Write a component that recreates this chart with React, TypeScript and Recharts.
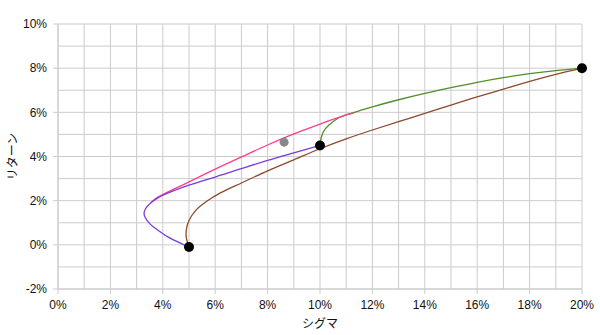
import { ComposedChart, Line, Scatter, XAxis, YAxis, CartesianGrid } from 'recharts'

// axis ticks (percent)
const xTicks = [0, 1, 2, 3, 4, 5, 6, 7, 8, 9, 10, 11, 12, 13, 14, 15, 16, 17, 18, 19, 20]
const yTicks = [-2, -1, 0, 1, 2, 3, 4, 5, 6, 7, 8, 9, 10]

// frontier curves: [sigma %, return %]
const purpleCurve = [
    [5, -0.1], [4.59, 0.12], [4.21, 0.35], [3.83, 0.65], [3.51, 0.95], [3.32, 1.26],
    [3.29, 1.48], [3.38, 1.71], [3.58, 1.94], [3.83, 2.14], [4.21, 2.35], [4.97, 2.69],
    [6, 3.07], [7, 3.45], [8, 3.82], [9, 4.16], [10, 4.5],
]
const pinkCurve = [
    [3.55, 1.92], [3.8, 2.15], [4.2, 2.4], [5, 2.85], [6, 3.43], [7, 3.98],
    [8, 4.52], [9, 5.02], [10, 5.47], [11, 5.88], [11.3, 5.98],
]
const greenCurve = [
    [10, 4.52], [10.02, 4.72], [10.12, 5.1], [10.32, 5.4], [10.64, 5.7], [11, 5.88],
    [11.5, 6.07], [12, 6.25], [13, 6.57], [14, 6.86], [15, 7.12], [16, 7.36],
    [17, 7.57], [18, 7.75], [19, 7.89], [20, 8],
]
const brownCurve = [
    [5, -0.1], [4.9, 0.3], [4.9, 0.7], [5, 1.1], [5.25, 1.55], [5.65, 1.95], [6.2, 2.35],
    [7, 2.8], [8, 3.35], [9, 3.85], [10, 4.35], [11, 4.8], [12, 5.2], [13, 5.58],
    [14, 5.95], [15, 6.33], [16, 6.7], [17, 7.05], [18, 7.4], [19, 7.72], [20, 8],
]
const assetPoints = [[5, -0.1], [10, 4.5], [20, 8]]
const grayPoints = [[8.63, 4.65]]

const toRows = (pts: number[][]) => pts.map(([x, y]) => ({ x, y }))

const TICK_SIZE = 5
const TICK_MARGIN = 6
const gridColor = '#cccccc'
const tickFont = 'Liberation Sans, Arial, sans-serif'
const jpFont = 'Noto Sans CJK JP, sans-serif'

function XTick(props: any) {
    const { x, y, payload } = props
    if (payload.value % 2 !== 0) return null
    const axisY = y - TICK_SIZE - TICK_MARGIN
    return (
        <g>
            <line x1={x} x2={x} y1={axisY} y2={axisY + TICK_SIZE} stroke={gridColor} />
            <text x={x} y={y} dy="0.71em" textAnchor="middle" fontSize={12} fontFamily={tickFont} fill="#111">
                {payload.value}%
            </text>
        </g>
    )
}

function YTick(props: any) {
    const { x, y, payload } = props
    if (payload.value % 2 !== 0) return null
    const axisX = x + TICK_SIZE + TICK_MARGIN
    return (
        <g>
            <line x1={axisX - TICK_SIZE} x2={axisX} y1={y} y2={y} stroke={gridColor} />
            <text x={x} y={y} dy="0.355em" textAnchor="end" fontSize={12} fontFamily={tickFont} fill="#111">
                {payload.value}%
            </text>
        </g>
    )
}

const dot = (r: number, fill: string) => (p: any) => <circle cx={p.cx} cy={p.cy} r={r} fill={fill} />

export default function App() {
    return (
        <div style={{ position: 'absolute', left: 0, top: 0, background: '#fff' }}>
            <ComposedChart width={600} height={335} margin={{ top: 24, right: 18, bottom: 0, left: 0 }}>
                <CartesianGrid stroke={gridColor} strokeWidth={1} />
                <XAxis
                    dataKey="x"
                    type="number"
                    domain={[0, 20]}
                    ticks={xTicks}
                    height={46}
                    stroke={gridColor}
                    tickLine={false}
                    tickSize={TICK_SIZE}
                    tickMargin={TICK_MARGIN}
                    tick={<XTick />}
                    interval={0}
                    label={({ viewBox }: any) => (
                        <text
                            x={viewBox.x + viewBox.width / 2}
                            y={viewBox.y + 33}
                            dominantBaseline="central"
                            textAnchor="middle"
                            fontSize={12}
                            fontFamily={jpFont}
                            fill="#111"
                        >
                            シグマ
                        </text>
                    )}
                />
                <YAxis
                    dataKey="y"
                    type="number"
                    domain={[-2, 10]}
                    ticks={yTicks}
                    width={58}
                    stroke={gridColor}
                    tickLine={false}
                    tickSize={TICK_SIZE}
                    tickMargin={TICK_MARGIN}
                    tick={<YTick />}
                    interval={0}
                    label={({ viewBox }: any) => {
                        const cx = viewBox.x + 11
                        const cy = viewBox.y + viewBox.height / 2
                        return (
                            <text
                                x={cx}
                                y={cy}
                                transform={`rotate(-90, ${cx}, ${cy})`}
                                dominantBaseline="central"
                                textAnchor="middle"
                                fontSize={12}
                                fontFamily={jpFont}
                                fill="#111"
                            >
                                リターン
                            </text>
                        )
                    }}
                />
                <Line data={toRows(brownCurve)} dataKey="y" type="natural" stroke="#8c4a2c" strokeWidth={1.3} dot={false} isAnimationActive={false} />
                <Line data={toRows(greenCurve)} dataKey="y" type="natural" stroke="#4f8f2a" strokeWidth={1.3} dot={false} isAnimationActive={false} />
                <Line data={toRows(pinkCurve)} dataKey="y" type="natural" stroke="#ff3d8c" strokeWidth={1.3} dot={false} isAnimationActive={false} />
                <Line data={toRows(purpleCurve)} dataKey="y" type="natural" stroke="#7a3ae0" strokeWidth={1.3} dot={false} isAnimationActive={false} />
                <Scatter data={toRows(grayPoints)} dataKey="y" shape={dot(4.5, '#888888')} isAnimationActive={false} />
                <Scatter data={toRows(assetPoints)} dataKey="y" shape={dot(5, '#000000')} isAnimationActive={false} />
            </ComposedChart>
        </div>
    )
}
